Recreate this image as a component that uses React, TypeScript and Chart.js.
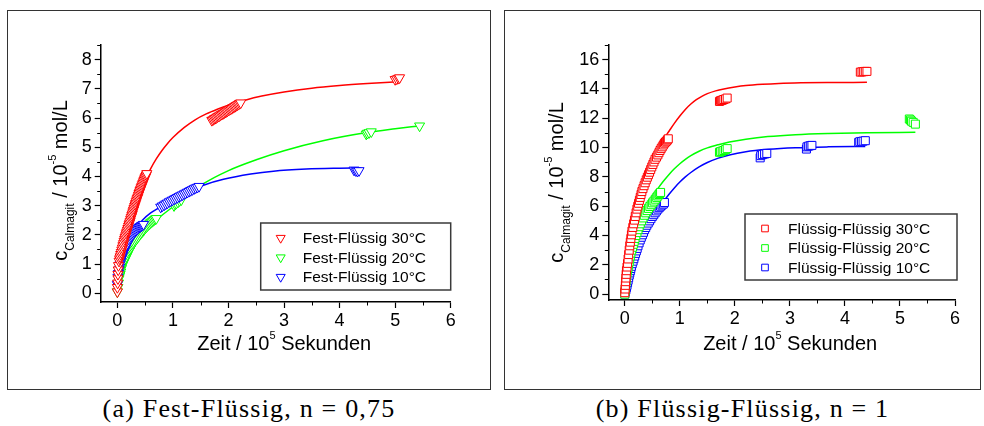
import React, { useEffect, useRef } from "react";
import { Chart, registerables } from "chart.js";
Chart.register(...registerables);

// ---------- Panel (a): Fest-Flüssig ----------
const ff30X = [0, 0, 0.005, 0.01, 0.01, 0.015, 0.02, 0.03, 0.04, 0.05, 0.06, 0.07, 0.08, 0.09, 0.1, 0.11, 0.12, 0.13, 0.14, 0.15, 0.16, 0.17, 0.18, 0.19, 0.2, 0.21, 0.22, 0.23, 0.24, 0.25, 0.26, 0.27, 0.28, 0.29, 0.3, 0.31, 0.32, 0.33, 0.34, 0.35, 0.36, 0.37, 0.38, 0.39, 0.4, 0.41, 0.42, 0.43, 0.44, 0.45, 0.46, 0.47, 0.48, 0.49, 0.5, 0.51, 0.52, 0.53,
  1.7, 1.72, 1.74, 1.76, 1.78, 1.8, 1.82, 1.84, 1.86, 1.88, 1.9, 1.92, 1.94, 1.96, 1.98, 2.0, 2.02, 2.04, 2.06, 2.08, 2.1, 2.12, 2.14, 2.16, 2.18, 2.2, 2.22,
  5.0, 5.03, 5.06, 5.08];
const ff30Y = [0.05, 0.2, 0.35, 0.5, 0.65, 0.8, 0.95, 1.1, 1.18, 1.25, 1.33, 1.4, 1.48, 1.55, 1.63, 1.7, 1.78, 1.85, 1.91, 1.97, 2.04, 2.1, 2.16, 2.22, 2.29, 2.35, 2.41, 2.47, 2.54, 2.6, 2.66, 2.72, 2.79, 2.85, 2.91, 2.97, 3.03, 3.08, 3.14, 3.2, 3.25, 3.3, 3.36, 3.42, 3.47, 3.52, 3.57, 3.62, 3.67, 3.72, 3.77, 3.82, 3.87, 3.92, 3.96, 4.0, 4.05, 4.1,
  5.92, 5.94, 5.97, 5.99, 6.01, 6.04, 6.06, 6.08, 6.11, 6.13, 6.15, 6.17, 6.2, 6.22, 6.24, 6.27, 6.29, 6.31, 6.33, 6.36, 6.38, 6.4, 6.43, 6.45, 6.47, 6.5, 6.52,
  7.32, 7.34, 7.36, 7.38];
const ff20X = [0, 0.01, 0.02, 0.03, 0.04, 0.05, 0.06, 0.075, 0.09, 0.105, 0.12, 0.135, 0.15, 0.165, 0.18, 0.195, 0.21, 0.225, 0.24, 0.255, 0.27, 0.285, 0.3, 0.32, 0.34, 0.36, 0.38, 0.4, 0.42, 0.44, 0.46, 0.48, 0.5, 0.52, 0.54, 0.56, 0.58, 0.6, 0.62, 0.64, 0.66, 0.68, 0.7,
  1.02, 1.04, 1.06, 1.09, 1.12, 1.15, 4.48, 4.5, 4.53, 4.57, 5.44];
const ff20Y = [0.05, 0.2, 0.35, 0.5, 0.58, 0.65, 0.73, 0.85, 0.95, 1.02, 1.08, 1.14, 1.2, 1.26, 1.32, 1.39, 1.45, 1.5, 1.55, 1.6, 1.65, 1.7, 1.75, 1.8, 1.85, 1.9, 1.95, 2.0, 2.05, 2.09, 2.14, 2.18, 2.23, 2.27, 2.31, 2.35, 2.38, 2.42, 2.45, 2.48, 2.51, 2.54, 2.56,
  3.0, 3.05, 3.08, 3.12, 3.17, 3.2, 5.45, 5.48, 5.5, 5.53, 5.73];
const ff10X = [0, 0.01, 0.02, 0.03, 0.04, 0.05, 0.065, 0.08, 0.095, 0.11, 0.125, 0.14, 0.155, 0.17, 0.185, 0.2, 0.215, 0.23, 0.245, 0.26, 0.275, 0.29, 0.305, 0.32, 0.335, 0.35, 0.365, 0.38, 0.395, 0.41, 0.425, 0.44, 0.455, 0.47,
  0.78, 0.81, 0.84, 0.87, 0.9, 0.93, 0.96, 0.99, 1.02, 1.05, 1.08, 1.11, 1.14, 1.17, 1.2, 1.23, 1.26, 1.29, 1.32, 1.35, 1.38, 1.41, 1.44, 1.47,
  4.26, 4.29, 4.32, 4.35];
const ff10Y = [0.3, 0.55, 0.68, 0.8, 0.9, 1.0, 1.1, 1.2, 1.29, 1.38, 1.45, 1.52, 1.59, 1.65, 1.71, 1.77, 1.83, 1.88, 1.93, 1.97, 2.01, 2.05, 2.09, 2.12, 2.15, 2.18, 2.21, 2.24, 2.26, 2.28, 2.3, 2.32, 2.34, 2.36,
  2.95, 2.99, 3.02, 3.06, 3.09, 3.13, 3.16, 3.19, 3.22, 3.25, 3.28, 3.31, 3.34, 3.37, 3.4, 3.43, 3.46, 3.49, 3.52, 3.55, 3.58, 3.61, 3.63, 3.66,
  4.22, 4.2, 4.18, 4.2];

const ffFit30X = [0, 0.02, 0.05, 0.1, 0.15, 0.2, 0.3, 0.4, 0.5, 0.6, 0.7, 0.8, 0.9, 1.0, 1.2, 1.4, 1.6, 1.8, 2.0, 2.3, 2.6, 3.0, 3.5, 4.0, 4.5, 5.1];
const ffFit30Y = [0, 0.5, 0.95, 1.5, 1.95, 2.35, 2.98, 3.48, 3.9, 4.27, 4.6, 4.88, 5.12, 5.33, 5.67, 5.94, 6.14, 6.3, 6.44, 6.61, 6.75, 6.89, 7.02, 7.11, 7.18, 7.25];
const ffFit20X = [0, 0.03, 0.08, 0.17, 0.3, 0.47, 0.6, 0.77, 1.07, 1.55, 2.0, 2.5, 3.0, 3.7, 4.49, 5.0, 5.44];
const ffFit20Y = [0, 0.45, 0.85, 1.28, 1.7, 2.08, 2.35, 2.62, 3.06, 3.75, 4.2, 4.57, 4.88, 5.22, 5.5, 5.63, 5.73];
const ffFit10X = [0, 0.02, 0.05, 0.1, 0.2, 0.3, 0.45, 0.6, 0.77, 1.0, 1.31, 1.55, 1.91, 2.4, 2.81, 3.4, 4.0, 4.35];
const ffFit10Y = [0, 0.45, 0.85, 1.25, 1.78, 2.12, 2.5, 2.75, 2.95, 3.25, 3.52, 3.7, 3.9, 4.08, 4.18, 4.25, 4.28, 4.29];

// ---------- Panel (b): Flüssig-Flüssig ----------
const fl30X = [0, 0.005, 0.01, 0.015, 0.02, 0.025, 0.03, 0.04, 0.05, 0.06, 0.07, 0.08, 0.09, 0.1, 0.11, 0.12, 0.13, 0.145, 0.16, 0.175, 0.19, 0.205, 0.22, 0.235, 0.25, 0.265, 0.28, 0.295, 0.31, 0.33, 0.35, 0.37, 0.39, 0.41, 0.43, 0.45, 0.47, 0.49, 0.51, 0.53, 0.55, 0.575, 0.6, 0.62, 0.64, 0.66, 0.68, 0.7, 0.72, 0.74, 0.76, 0.775, 0.79,
  1.72, 1.74, 1.76, 1.78, 1.8, 1.83, 1.86, 4.28, 4.31, 4.34, 4.37, 4.4];
const fl30Y = [0.1, 0.35, 0.6, 0.85, 1.1, 1.35, 1.6, 1.85, 2.1, 2.4, 2.7, 3.0, 3.3, 3.55, 3.8, 4.05, 4.3, 4.55, 4.8, 5.05, 5.3, 5.55, 5.8, 6.0, 6.2, 6.4, 6.6, 6.8, 7.0, 7.2, 7.4, 7.6, 7.8, 7.98, 8.15, 8.32, 8.5, 8.68, 8.85, 9.02, 9.2, 9.35, 9.5, 9.65, 9.8, 9.93, 10.05, 10.18, 10.3, 10.38, 10.45, 10.53, 10.6,
  13.15, 13.2, 13.22, 13.25, 13.28, 13.32, 13.38, 15.15, 15.17, 15.18, 15.2, 15.2];
const fl20X = [0, 0.005, 0.01, 0.015, 0.02, 0.025, 0.03, 0.04, 0.05, 0.06, 0.07, 0.08, 0.09, 0.1, 0.11, 0.125, 0.14, 0.155, 0.17, 0.185, 0.2, 0.22, 0.24, 0.26, 0.28, 0.305, 0.33, 0.355, 0.38, 0.405, 0.43, 0.455, 0.48, 0.505, 0.53, 0.555, 0.58, 0.6, 0.62, 0.635, 0.65,
  1.72, 1.74, 1.77, 1.8, 1.83, 1.86, 5.17, 5.19, 5.21, 5.24, 5.28];
const fl20Y = [0, 0.2, 0.4, 0.6, 0.8, 1.0, 1.2, 1.4, 1.6, 1.8, 2.0, 2.2, 2.4, 2.6, 2.8, 3.0, 3.2, 3.4, 3.6, 3.8, 4.0, 4.2, 4.4, 4.6, 4.8, 5.0, 5.2, 5.38, 5.55, 5.7, 5.85, 5.98, 6.1, 6.23, 6.35, 6.48, 6.6, 6.7, 6.8, 6.87, 6.94,
  9.68, 9.72, 9.76, 9.8, 9.86, 9.93, 11.95, 11.88, 11.8, 11.72, 11.6];
const fl10X = [0, 0.01, 0.02, 0.03, 0.04, 0.05, 0.06, 0.07, 0.08, 0.09, 0.1, 0.11, 0.12, 0.135, 0.15, 0.165, 0.18, 0.195, 0.21, 0.225, 0.24, 0.26, 0.28, 0.3, 0.32, 0.34, 0.36, 0.38, 0.4, 0.425, 0.45, 0.475, 0.5, 0.525, 0.55, 0.575, 0.6, 0.625, 0.65, 0.675, 0.7, 0.72,
  2.46, 2.47, 2.5, 2.54, 2.58, 3.3, 3.31, 3.34, 3.37, 3.4, 4.25, 4.27, 4.3, 4.33, 4.37];
const fl10Y = [0, 0.15, 0.3, 0.45, 0.6, 0.78, 0.95, 1.12, 1.3, 1.45, 1.6, 1.75, 1.9, 2.08, 2.25, 2.42, 2.6, 2.78, 2.95, 3.12, 3.3, 3.5, 3.7, 3.88, 4.05, 4.22, 4.4, 4.55, 4.7, 4.85, 5.0, 5.15, 5.3, 5.42, 5.55, 5.68, 5.8, 5.9, 6.0, 6.08, 6.15, 6.25,
  9.3, 9.45, 9.52, 9.56, 9.6, 9.9, 10.05, 10.1, 10.13, 10.15, 10.35, 10.4, 10.42, 10.44, 10.47];

const flFit30X = [0, 0.05, 0.1, 0.15, 0.2, 0.3, 0.4, 0.5, 0.6, 0.7, 0.8, 0.9, 1.0, 1.1, 1.2, 1.3, 1.4, 1.5, 1.65, 1.8, 2.0, 2.2, 2.5, 2.8, 3.2, 3.7, 4.4];
const flFit30Y = [0, 2.0, 3.7, 5.0, 6.0, 7.4, 8.45, 9.25, 9.95, 10.55, 11.1, 11.65, 12.15, 12.6, 12.97, 13.27, 13.5, 13.68, 13.87, 14.0, 14.13, 14.23, 14.32, 14.38, 14.42, 14.44, 14.45];
const flFit20X = [0, 0.05, 0.1, 0.15, 0.2, 0.3, 0.4, 0.5, 0.6, 0.7, 0.8, 0.9, 1.0, 1.1, 1.2, 1.35, 1.5, 1.7, 1.9, 2.2, 2.6, 3.1, 3.7, 4.4, 5.28];
const flFit20Y = [0, 1.3, 2.4, 3.3, 4.05, 5.2, 6.0, 6.65, 7.2, 7.7, 8.15, 8.55, 8.9, 9.2, 9.45, 9.75, 9.98, 10.2, 10.38, 10.57, 10.75, 10.88, 10.96, 11.01, 11.04];
const flFit10X = [0, 0.05, 0.1, 0.2, 0.3, 0.4, 0.5, 0.6, 0.7, 0.8, 0.9, 1.0, 1.1, 1.2, 1.35, 1.5, 1.7, 1.9, 2.2, 2.6, 3.1, 3.7, 4.37];
const flFit10Y = [0, 0.75, 1.45, 2.65, 3.65, 4.45, 5.15, 5.75, 6.3, 6.8, 7.25, 7.65, 8.0, 8.3, 8.68, 8.98, 9.28, 9.5, 9.72, 9.88, 9.99, 10.05, 10.08];

const labelsA = ["Fest-Flüssig 30°C", "Fest-Flüssig 20°C", "Fest-Flüssig 10°C"];
const labelsB = ["Flüssig-Flüssig 30°C", "Flüssig-Flüssig 20°C", "Flüssig-Flüssig 10°C"];
const captionA = "(a) Fest-Flüssig, n = 0,75";
const captionB = "(b) Flüssig-Flüssig, n = 1";

const SANS = "Arial, 'Liberation Sans', Helvetica, sans-serif";
const RED = "#ff0000";
const GREEN = "#00ff00";
const BLUE = "#0000ff";

const toPts = (xs: number[], ys: number[]) => xs.map((x, i) => ({ x, y: ys[i] }));

function drawMarker(ctx: CanvasRenderingContext2D, style: string, x: number, y: number, r: number) {
  ctx.beginPath();
  if (style === "triangle") {
    ctx.moveTo(x, y + r);
    ctx.lineTo(x - r * Math.sin(Math.PI / 3), y - r / 2);
    ctx.lineTo(x + r * Math.sin(Math.PI / 3), y - r / 2);
    ctx.closePath();
  } else {
    const s = r * Math.SQRT1_2;
    ctx.rect(x - s, y - s, 2 * s, 2 * s);
  }
  ctx.fillStyle = "#fff";
  ctx.fill();
  ctx.stroke();
}

const minorTicksPlugin = {
  id: "minorTicks",
  afterDraw(chart: any) {
    const { ctx } = chart;
    ctx.save();
    ctx.strokeStyle = "#000";
    ctx.lineWidth = 1;
    for (const id of ["x", "y"]) {
      const s = chart.scales[id];
      const t = s.ticks.map((k: any) => k.value);
      if (t.length < 2) continue;
      const step = t[1] - t[0];
      for (let v = t[0] - step / 2; v <= s.max + 1e-9; v += step) {
        if (v < s.min - 1e-9) continue;
        const p = Math.round(s.getPixelForValue(v)) + 0.5;
        ctx.beginPath();
        if (id === "x") {
          ctx.moveTo(p, s.top);
          ctx.lineTo(p, s.top + 3.5);
        } else {
          ctx.moveTo(s.right, p);
          ctx.lineTo(s.right - 3.5, p);
        }
        ctx.stroke();
      }
    }
    ctx.restore();
  },
};

type Seg = { t: string; s: number; dy: number };
function segWidth(ctx: CanvasRenderingContext2D, segs: Seg[]) {
  let w = 0;
  for (const g of segs) {
    ctx.font = `${g.s}px ${SANS}`;
    w += ctx.measureText(g.t).width;
  }
  return w;
}
function drawSegs(ctx: CanvasRenderingContext2D, segs: Seg[], x0: number) {
  let x = x0;
  for (const g of segs) {
    ctx.font = `${g.s}px ${SANS}`;
    ctx.fillText(g.t, x, g.dy);
    x += ctx.measureText(g.t).width;
  }
}

const xTitleSegs: Seg[] = [
  { t: "Zeit / 10", s: 20, dy: 0 },
  { t: "5", s: 11, dy: -11 },
  { t: " Sekunden", s: 20, dy: 0 },
];
const yTitleSegs: Seg[] = [
  { t: "c", s: 20, dy: 0 },
  { t: "Calmagit", s: 12, dy: 7 },
  { t: " / 10", s: 20, dy: 0 },
  { t: "-5", s: 11, dy: -11 },
  { t: " mol/L", s: 20, dy: 0 },
];

const axisTitlesPlugin = {
  id: "axisTitles",
  afterDraw(chart: any, _args: any, opts: any) {
    const { ctx, chartArea } = chart;
    ctx.save();
    ctx.fillStyle = "#000";
    ctx.textBaseline = "alphabetic";
    ctx.textAlign = "left";
    const wx = segWidth(ctx, xTitleSegs);
    const cx = (chartArea.left + chartArea.right) / 2 + opts.xdx;
    ctx.save();
    ctx.translate(0, chartArea.bottom + opts.xdy);
    drawSegs(ctx, xTitleSegs, cx - wx / 2);
    ctx.restore();
    const wy = segWidth(ctx, yTitleSegs);
    const cy = (chartArea.top + chartArea.bottom) / 2 + opts.ydy;
    ctx.save();
    ctx.translate(chartArea.left + opts.ydx, cy);
    ctx.rotate(-Math.PI / 2);
    drawSegs(ctx, yTitleSegs, -wy / 2);
    ctx.restore();
    ctx.restore();
  },
};

const boxLegendPlugin = {
  id: "boxLegend",
  afterDatasetsDraw(chart: any, _args: any, opts: any) {
    const { ctx, chartArea } = chart;
    const right = chartArea.right + opts.dr;
    const bottom = chartArea.bottom + opts.db;
    const left = right - opts.w;
    const top = bottom - opts.h;
    ctx.save();
    ctx.fillStyle = "#fff";
    ctx.fillRect(left, top, opts.w, opts.h);
    ctx.strokeStyle = "#3a3a3a";
    ctx.lineWidth = 1.5;
    ctx.strokeRect(left, top, opts.w, opts.h);
    const items = chart.data.datasets.filter((d: any) => !d.isFit);
    items.forEach((d: any, i: number) => {
      const y = top + opts.row0 + i * opts.rowGap;
      ctx.strokeStyle = d.pointBorderColor;
      ctx.lineWidth = 1;
      drawMarker(ctx, d.pointStyle, left + opts.mx, y, opts.mr);
      ctx.fillStyle = "#000";
      ctx.font = `15.5px ${SANS}`;
      ctx.textBaseline = "middle";
      ctx.textAlign = "left";
      ctx.fillText(d.label, left + opts.tx, y + 1);
    });
    ctx.restore();
  },
};

function markerSet(label: string, xs: number[], ys: number[], color: string, style: string, radius: number, order: number) {
  return {
    label,
    data: toPts(xs, ys),
    showLine: false,
    pointStyle: style,
    pointRotation: style === "triangle" ? 180 : 0,
    pointRadius: radius,
    pointHoverRadius: radius,
    pointBorderWidth: 1,
    pointBorderColor: color,
    pointBackgroundColor: "#fff",
    borderColor: color,
    backgroundColor: "#fff",
    order,
  };
}
function fitSet(xs: number[], ys: number[], color: string) {
  return {
    label: "fit",
    isFit: true,
    data: toPts(xs, ys),
    showLine: true,
    pointRadius: 0,
    pointHoverRadius: 0,
    borderColor: color,
    backgroundColor: color,
    borderWidth: 1.5,
    cubicInterpolationMode: "monotone",
    order: 10,
  };
}

type PanelCfg = {
  left: number; top: number; w: number; h: number;
  yW: number; xH: number; padTop: number; padRight: number;
  yMin: number; yMax: number; yStep: number;
  datasets: any[];
  titles: any; legend: any;
};

function ChartPanel({ cfg }: { cfg: PanelCfg }) {
  const ref = useRef<HTMLCanvasElement>(null);
  useEffect(() => {
    const font = { family: SANS, size: 18 };
    const chart = new Chart(ref.current as HTMLCanvasElement, {
      type: "scatter",
      data: { datasets: cfg.datasets },
      options: {
        animation: false,
        responsive: false,
        devicePixelRatio: 1,
        layout: { padding: { left: 0, top: cfg.padTop, right: cfg.padRight, bottom: 0 } },
        plugins: {
          legend: { display: false },
          tooltip: { enabled: false },
          axisTitles: cfg.titles,
          boxLegend: cfg.legend,
        } as any,
        scales: {
          x: {
            type: "linear",
            min: -0.3,
            max: 6,
            ticks: { stepSize: 1, includeBounds: false, font, color: "#000", padding: 2 },
            grid: { drawOnChartArea: false, drawTicks: true, tickLength: 6, tickColor: "#000", tickWidth: 1.2 },
            border: { display: true, color: "#000", width: 1.5 },
            afterFit: (s: any) => { s.height = cfg.xH; },
          },
          y: {
            type: "linear",
            min: cfg.yMin,
            max: cfg.yMax,
            ticks: { stepSize: cfg.yStep, includeBounds: false, font, color: "#000", padding: 3 },
            grid: { drawOnChartArea: false, drawTicks: true, tickLength: 6, tickColor: "#000", tickWidth: 1.2 },
            border: { display: true, color: "#000", width: 1.5 },
            afterFit: (s: any) => { s.width = cfg.yW; },
          },
        } as any,
      } as any,
      plugins: [minorTicksPlugin, axisTitlesPlugin, boxLegendPlugin],
    });
    return () => chart.destroy();
  }, []);
  return (
    <canvas
      ref={ref}
      width={cfg.w}
      height={cfg.h}
      style={{ position: "absolute", left: cfg.left, top: cfg.top, width: cfg.w, height: cfg.h }}
    />
  );
}

const panelA: PanelCfg = {
  left: 8, top: 11, w: 482, h: 378,
  yW: 92.7, xH: 87, padTop: 34, padRight: 39.3,
  yMin: -0.3, yMax: 8.5, yStep: 1,
  datasets: [
    markerSet(labelsA[0], ff30X, ff30Y, RED, "triangle", 5.8, 0),
    markerSet(labelsA[1], ff20X, ff20Y, GREEN, "triangle", 5.8, 2),
    markerSet(labelsA[2], ff10X, ff10Y, BLUE, "triangle", 5.8, 1),
    fitSet(ffFit30X, ffFit30Y, RED),
    fitSet(ffFit20X, ffFit20Y, GREEN),
    fitSet(ffFit10X, ffFit10Y, BLUE),
  ],
  titles: { xdx: 8.5, xdy: 48, ydx: -34, ydy: 7 },
  legend: { dr: 0, db: -12, w: 190, h: 67, row0: 15, rowGap: 19.5, mx: 20, tx: 42, mr: 5.2 },
};

const panelB: PanelCfg = {
  left: 505, top: 11, w: 475, h: 378,
  yW: 103.3, xH: 89, padTop: 34, padRight: 25,
  yMin: -0.4, yMax: 17, yStep: 2,
  datasets: [
    markerSet(labelsB[0], fl30X, fl30Y, RED, "rect", 5.66, 0),
    markerSet(labelsB[1], fl20X, fl20Y, GREEN, "rect", 5.66, 1),
    markerSet(labelsB[2], fl10X, fl10Y, BLUE, "rect", 5.66, 2),
    fitSet(flFit30X, flFit30Y, RED),
    fitSet(flFit20X, flFit20Y, GREEN),
    fitSet(flFit10X, flFit10Y, BLUE),
  ],
  titles: { xdx: 8.5, xdy: 50, ydx: -45.6, ydy: 10 },
  legend: { dr: 2, db: -20, w: 212, h: 66, row0: 14.5, rowGap: 19.5, mx: 20, tx: 43, mr: 4.7 },
};

export default function App() {
  const serif = "'Liberation Serif', 'Times New Roman', serif";
  const cap = { position: "absolute" as const, top: 394, textAlign: "center" as const, fontFamily: serif, fontSize: 26, lineHeight: "30px", letterSpacing: "1.2px", color: "#000", whiteSpace: "nowrap" as const };
  return (
    <div style={{ position: "absolute", left: 0, top: 0, width: 984, height: 426, background: "#fff", overflow: "hidden" }}>
      <div style={{ position: "absolute", left: 7, top: 10, width: 484, height: 380, border: "1px solid #333", boxSizing: "border-box" }} />
      <div style={{ position: "absolute", left: 504, top: 10, width: 477, height: 380, border: "1px solid #333", boxSizing: "border-box" }} />
      <ChartPanel cfg={panelA} />
      <ChartPanel cfg={panelB} />
      <div style={{ ...cap, left: 7, width: 484 }}>{captionA}</div>
      <div style={{ ...cap, left: 504, width: 477 }}>{captionB}</div>
    </div>
  );
}
